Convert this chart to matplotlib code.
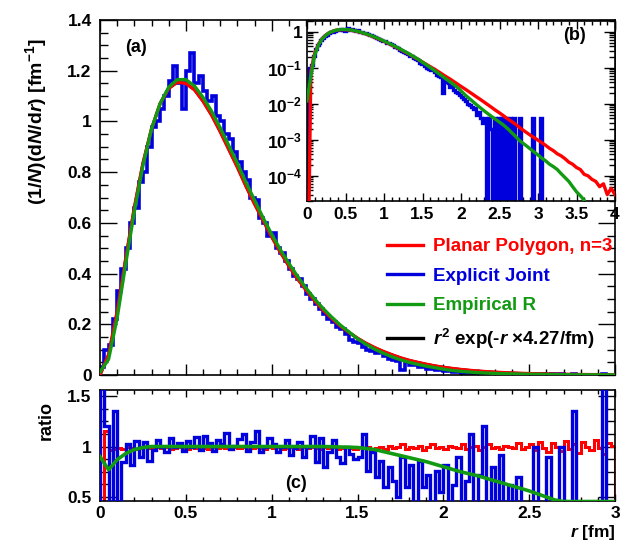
import numpy as np
import matplotlib
matplotlib.use("Agg")
import matplotlib.pyplot as plt
from matplotlib.ticker import MultipleLocator, AutoMinorLocator, LogLocator, NullFormatter, FuncFormatter

plt.rcParams['font.family'] = ['Liberation Sans', 'DejaVu Sans']
plt.rcParams['font.weight'] = 'bold'
plt.rcParams['mathtext.fontset'] = 'custom'
plt.rcParams['mathtext.rm'] = 'Liberation Sans:bold'
plt.rcParams['mathtext.it'] = 'Liberation Sans:italic:bold'
plt.rcParams['mathtext.bf'] = 'Liberation Sans:bold'

# ---------------------------------------------------------------------------
# Data
# ---------------------------------------------------------------------------
# smooth curves sampled every 0.05 fm from r = 0 to 4
r_step = 0.05
red_vals = [
    0.0, 0.08, 0.25, 0.46, 0.66, 0.835, 0.97, 1.07, 1.13, 1.155,
    1.15, 1.125, 1.08, 1.025, 0.96, 0.89, 0.82, 0.745, 0.675, 0.61,
    0.545, 0.485, 0.43, 0.38, 0.335, 0.293, 0.256, 0.223, 0.193, 0.168,
    0.145, 0.125, 0.108, 0.093, 0.080, 0.068, 0.058, 0.050, 0.0425, 0.036,
    0.0305, 0.026, 0.022, 0.0186, 0.0157, 0.0133, 0.0112, 0.0094, 0.0079, 0.0066,
    0.0056, 0.0047, 0.0039, 0.0033, 0.0028, 0.0023, 0.0019, 0.0016, 0.00135, 0.00115,
    0.00098, 0.00083, 0.0007, 0.00058, 0.0005, 0.00041, 0.00036, 0.0003, 0.00024, 0.00021,
    0.00017, 0.00015, 0.00011, 0.0001, 0.00008, 0.00007, 0.00005, 0.00006, 0.00003, 0.000045,
    0.00003,
]
green_vals = [
    0.012, 0.062, 0.225, 0.44, 0.645, 0.825, 0.97, 1.07, 1.135, 1.165,
    1.165, 1.14, 1.095, 1.04, 0.975, 0.905, 0.835, 0.76, 0.69, 0.62,
    0.555, 0.495, 0.44, 0.39, 0.343, 0.30, 0.262, 0.228, 0.197, 0.170,
    0.143, 0.121, 0.102, 0.086, 0.072, 0.060, 0.050, 0.042, 0.035, 0.029,
    0.023, 0.018, 0.0145, 0.0118, 0.0095, 0.0078, 0.0064, 0.0053, 0.0044, 0.0037,
    0.0031, 0.0026, 0.0021, 0.00165, 0.0013, 0.001, 0.00082, 0.00068, 0.00056, 0.00046,
    0.00038, 0.00031, 0.00026, 0.00021, 0.00018, 0.00015, 0.000115, 0.00009, 0.00007, 0.00005,
    0.000036, 0.000028, 0.000021, 0.0, 0.0, 0.0, 0.0, 0.0, 0.0, 0.0,
    0.0,
]

# Explicit Joint histogram, 0.025 fm bins from r = 0 to 3.05
bin_w = 0.025
blue_vals = [
    0.03, 0.10, 0.12, 0.22, 0.33, 0.42, 0.50, 0.60, 0.66, 0.76,
    0.80, 0.90, 0.98, 1.00, 1.05, 1.10, 1.16, 1.22, 1.15, 1.05,
    1.20, 1.27, 1.15, 1.18, 1.12, 1.08, 1.10, 1.02, 1.00, 0.95,
    0.93, 0.88, 0.84, 0.80, 0.77, 0.70, 0.69, 0.62, 0.60, 0.55,
    0.56, 0.50, 0.48, 0.45, 0.42, 0.39, 0.38, 0.35, 0.32, 0.30,
    0.28, 0.26, 0.24, 0.22, 0.21, 0.19, 0.18, 0.16, 0.14, 0.13,
    0.125, 0.11, 0.10, 0.095, 0.085, 0.09, 0.075, 0.065, 0.06, 0.055,
    0.02, 0.05, 0.04, 0.038, 0.03, 0.032, 0.025, 0.022, 0.02, 0.018,
    0.015, 0.014, 0.012, 0.010, 0.009, 0.008, 0.007, 0.0075, 0.005, 0.006,
    0.004, 0.003, 0.004, 0.0, 0.004, 0.002, 0.0, 0.004, 0.0, 0.004,
    0.0, 0.004, 0.0, 0.004, 0.0, 0.004, 0.0, 0.004, 0.0, 0.0,
    0.004, 0.0, 0.0, 0.0, 0.0, 0.0, 0.0, 0.004, 0.0, 0.0,
    0.0, 0.004,
]

# ratio panel, 0.025 fm bins from r = 0 to 3
red_ratio = [
    0.0, 1.15, 0.97, 0.98, 0.99, 0.98, 1.0, 0.99, 0.98, 0.99,
    1.0, 0.99, 0.98, 1.0, 0.99, 1.0, 0.98, 0.99, 1.0, 0.99,
    0.98, 1.0, 0.99, 1.0, 0.99, 0.98, 1.0, 0.99, 1.0, 0.99,
    0.98, 1.0, 0.99, 1.0, 0.98, 0.99, 1.0, 0.99, 0.98, 1.0,
    0.99, 1.0, 0.98, 0.99, 1.0, 0.99, 0.98, 1.0, 0.99, 1.0,
    0.99, 0.98, 1.0, 0.99, 1.0, 0.98, 0.99, 1.0, 0.99, 0.98,
    1.0, 0.99, 1.0, 0.98, 0.99, 1.0, 0.98, 1.01, 0.99, 1.0,
    1.02, 0.98, 1.0, 0.99, 1.01, 0.97, 1.0, 1.02, 0.99, 1.0,
    0.98, 1.01, 1.0, 0.99, 1.02, 0.98, 1.0, 1.01, 0.97, 1.0,
    1.02, 0.99, 1.0, 0.98, 1.01, 1.0, 0.99, 1.03, 0.98, 1.0,
    1.02, 0.97, 1.04, 0.99, 0.95, 1.03, 1.0, 0.96, 1.05, 0.98,
    1.02, 0.94, 1.04, 1.0, 0.97, 1.06, 0.99, 0.93, 1.03, 1.01,
]
blue_ratio = [
    1.6, 1.2, 0.0, 1.35, 0.0, 0.85, 1.02, 0.82, 1.05, 0.9,
    1.04, 0.86, 0.97, 1.06, 1.0, 0.95, 1.08, 1.0, 1.03, 0.96,
    1.05, 1.0, 1.09, 0.97, 1.1, 1.03, 0.96, 1.06, 1.02, 1.13,
    0.98, 1.01, 1.07, 1.12, 0.96, 1.04, 1.15, 0.95, 1.0, 1.08,
    1.02, 0.95, 1.0, 1.06, 0.92, 0.99, 1.04, 0.9, 1.0, 1.1,
    0.85, 1.08, 0.8, 0.95, 1.06, 0.9, 0.84, 1.0, 0.93, 0.88,
    0.9, 1.12, 0.76, 0.95, 0.7, 0.86, 0.6, 0.8, 0.66, 0.5,
    0.9, 0.6, 0.82, 0.3, 0.86, 0.6, 0.72, 0.3, 0.76, 0.55,
    0.82, 0.3, 0.62, 0.9, 0.3, 0.66, 1.12, 0.3, 0.72, 1.2,
    0.0, 0.8, 0.0, 0.92, 0.0, 0.62, 0.0, 0.7, 0.0, 0.0,
    0.0, 1.0, 0.0, 0.0, 0.9, 0.0, 0.0, 1.0, 0.0, 0.0,
    1.35, 0.0, 0.0, 0.0, 0.0, 0.0, 0.0, 1.6, 0.0, 0.0,
]
# green ratio sampled every 0.05 fm from 0 to 3
green_ratio = [
    0.9, 0.77, 0.87, 0.93, 0.97, 0.99, 1.0, 1.0, 1.0, 1.0,
    1.0, 1.0, 1.0, 1.0, 1.0, 1.0, 1.0, 1.0, 1.0, 1.0,
    1.0, 1.0, 1.0, 1.0, 1.0, 1.0, 1.0, 0.998, 0.995, 0.993,
    0.99, 0.98, 0.97, 0.95, 0.93, 0.91, 0.89, 0.87, 0.85, 0.825,
    0.80, 0.775, 0.75, 0.73, 0.71, 0.685, 0.66, 0.635, 0.61, 0.585,
    0.56, 0.53, 0.50, 0.47, 0.455, 0.455, 0.455, 0.455, 0.455, 0.455,
    0.455,
]

legend_labels = ["Planar Polygon, n=3", "Explicit Joint", "Empirical R",
                 r"$r^{2}$ exp(-$r$ ×4.27/fm)"]

RED = "#ff0000"
BLUE = "#0000dd"
GREEN = "#129a12"

r_fine = np.arange(len(red_vals)) * r_step
r_green_ratio = np.arange(len(green_ratio)) * r_step
blue_edges = np.arange(len(blue_vals) + 1) * bin_w
ratio_edges = np.arange(len(red_ratio) + 1) * bin_w

W, H = 629, 540
fig = plt.figure(figsize=(W / 100, H / 100), dpi=100)


def px_axes(left, top, right, bottom):
    return fig.add_axes([left / W, 1 - bottom / H, (right - left) / W, (bottom - top) / H])


def style_ticks(ax, xmaj, xmin, ymaj, ymin):
    ax.tick_params(which="both", direction="in", top=True, right=True,
                   labelsize=12.5, width=1.0)
    ax.tick_params(axis="x", which="major", length=xmaj)
    ax.tick_params(axis="x", which="minor", length=xmin)
    ax.tick_params(axis="y", which="major", length=ymaj)
    ax.tick_params(axis="y", which="minor", length=ymin)
    for s in ax.spines.values():
        s.set_linewidth(1.2)


gfmt = FuncFormatter(lambda v, _: f"{v:g}")

# ---- main panel (a) ----
ax = px_axes(100, 20, 615, 375)
ax.stairs(blue_vals, blue_edges, color=BLUE, lw=2.6, zorder=2)
ax.plot(r_fine[:61], red_vals[:61], color="black", lw=2, zorder=1)
ax.plot(r_fine, red_vals, color=RED, lw=2.4, zorder=3)
ax.plot(r_fine, green_vals, color=GREEN, lw=2.4, zorder=4)
ax.set_xlim(0, 3)
ax.set_ylim(0, 1.4)
ax.xaxis.set_major_locator(MultipleLocator(0.5))
ax.xaxis.set_minor_locator(MultipleLocator(0.1))
ax.yaxis.set_major_locator(MultipleLocator(0.2))
ax.yaxis.set_minor_locator(MultipleLocator(0.05))
ax.yaxis.set_major_formatter(gfmt)
ax.set_xticklabels([])
style_ticks(ax, 8, 4, 12, 6)
ax.tick_params(axis="y", pad=6)
ax.text(125 / W, 1 - 47 / H, "(a)", transform=fig.transFigure, fontsize=13,
        va="center", ha="left")

leg_handles = [
    plt.Line2D([], [], color=RED, lw=2.4),
    plt.Line2D([], [], color=BLUE, lw=2.4),
    plt.Line2D([], [], color=GREEN, lw=2.4),
    plt.Line2D([], [], color="black", lw=2.4),
]
leg = ax.legend(leg_handles, legend_labels, loc="upper left",
                bbox_to_anchor=(387 / W, 1 - 238 / H), bbox_transform=fig.transFigure,
                frameon=False, fontsize=13.5, handlelength=1.9, handletextpad=0.55,
                labelspacing=0.66, borderpad=0, borderaxespad=0)
for txt, col in zip(leg.get_texts(), [RED, BLUE, GREEN, "black"]):
    txt.set_color(col)

fig.text(36 / W, 1 - 38 / H, r"(1/$N$)(d$N$/d$r$) [fm$^{-1}$]", rotation=90,
         ha="center", va="top", fontsize=14)

# ---- inset (b) ----
axi = px_axes(307, 21, 615, 201)
axi.set_facecolor("white")
axi.stairs(np.where(np.array(blue_vals) > 0, blue_vals, 1e-9), blue_edges,
           color=BLUE, lw=2.4, zorder=2, baseline=1e-9)
axi.plot(r_fine, np.where(np.array(red_vals) > 0, red_vals, 1e-9), color=RED, lw=2.4, zorder=3)
axi.plot(r_fine, np.where(np.array(green_vals) > 0, green_vals, 1e-9), color=GREEN, lw=2.4, zorder=4)
axi.set_yscale("log")
axi.set_xlim(0, 4)
axi.set_ylim(2e-5, 2.0)
axi.xaxis.set_major_locator(MultipleLocator(0.5))
axi.xaxis.set_minor_locator(MultipleLocator(0.1))
axi.xaxis.set_major_formatter(gfmt)
axi.yaxis.set_major_locator(LogLocator(base=10, numticks=10))
axi.yaxis.set_minor_locator(LogLocator(base=10, subs=np.arange(2, 10), numticks=10))
axi.yaxis.set_minor_formatter(NullFormatter())
axi.yaxis.set_major_formatter(FuncFormatter(
    lambda v, _: "1" if abs(v - 1) < 1e-9 else r"$10^{%d}$" % int(round(np.log10(v)))))
style_ticks(axi, 6, 3, 8, 4)
axi.tick_params(axis="x", pad=4)
axi.text(575 / W, 1 - 36 / H, "(b)", transform=fig.transFigure, fontsize=13,
         va="center", ha="center")

# ---- ratio panel (c) ----
axr = px_axes(100, 390, 615, 501)
axr.stairs(red_ratio, ratio_edges, color=RED, lw=2.2, zorder=2)
axr.stairs(blue_ratio, ratio_edges, color=BLUE, lw=2.4, zorder=3)
axr.plot(r_green_ratio, green_ratio, color=GREEN, lw=2.6, zorder=4)
axr.set_xlim(0, 3)
axr.set_ylim(0.46, 1.56)
axr.xaxis.set_major_locator(MultipleLocator(0.5))
axr.xaxis.set_minor_locator(MultipleLocator(0.1))
axr.yaxis.set_major_locator(MultipleLocator(0.5))
axr.yaxis.set_minor_locator(AutoMinorLocator(4))
axr.xaxis.set_major_formatter(gfmt)
axr.yaxis.set_major_formatter(gfmt)
style_ticks(axr, 5, 3, 12, 6)
axr.tick_params(axis="y", pad=6)
axr.text(296 / W, 1 - 483 / H, "(c)", transform=fig.transFigure, fontsize=13,
         va="center", ha="center")
fig.text(615 / W, 1 - 532 / H, r"$r$ [fm]", ha="right", va="center", fontsize=12.5)
fig.text(46 / W, 1 - 421 / H, "ratio", rotation=90, ha="center", va="center", fontsize=13)

fig.savefig("out.png", dpi=100)
